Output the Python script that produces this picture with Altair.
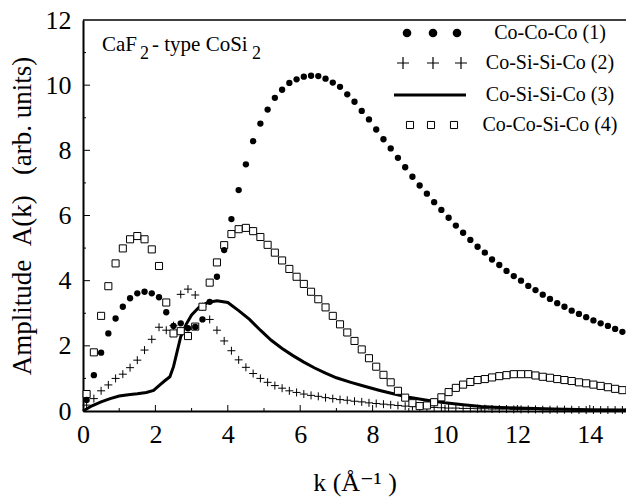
import altair as alt
import pandas as pd

FONT = "'Liberation Serif', 'Times New Roman', 'DejaVu Serif', serif"

# sampling grid of the point series (Å^-1)
k_pts = [0.1, 0.3, 0.5, 0.7, 0.9, 1.1, 1.3, 1.5, 1.7, 1.9,
         2.1, 2.3, 2.5, 2.7, 2.9, 3.1, 3.3, 3.5, 3.7, 3.9,
         4.1, 4.3, 4.5, 4.7, 4.9, 5.1, 5.3, 5.5, 5.7, 5.9,
         6.1, 6.3, 6.5, 6.7, 6.9, 7.1, 7.3, 7.5, 7.7, 7.9,
         8.1, 8.3, 8.5, 8.7, 8.9, 9.1, 9.3, 9.5, 9.7, 9.9,
         10.1, 10.3, 10.5, 10.7, 10.9, 11.1, 11.3, 11.5, 11.7, 11.9,
         12.1, 12.3, 12.5, 12.7, 12.9, 13.1, 13.3, 13.5, 13.7, 13.9,
         14.1, 14.3, 14.5, 14.7, 14.9]

# Co-Co-Co (1)
s1 = [0.34, 1.10, 1.79, 2.38, 2.84, 3.20, 3.46, 3.61, 3.66, 3.61,
      3.49, 3.03, 2.61, 2.69, 2.54, 2.58, 2.81, 3.35, 4.12, 4.94,
      5.89, 6.78, 7.57, 8.28, 8.82, 9.25, 9.61, 9.86, 10.07, 10.18,
      10.26, 10.29, 10.28, 10.20, 10.08, 9.95, 9.72, 9.49, 9.21, 8.95,
      8.64, 8.34, 8.06, 7.77, 7.48, 7.19, 6.92, 6.67, 6.41, 6.17,
      5.93, 5.69, 5.47, 5.25, 5.04, 4.86, 4.65, 4.48, 4.30, 4.14,
      4.00, 3.84, 3.71, 3.57, 3.44, 3.31, 3.20, 3.08, 2.98, 2.88,
      2.78, 2.69, 2.61, 2.52, 2.43]

# Co-Si-Si-Co (2)
s2 = [0.18, 0.38, 0.62, 0.80, 1.00, 1.13, 1.33, 1.56, 1.87, 2.20,
      2.57, 2.48, 2.62, 3.58, 3.74, 3.56, 3.20, 2.81, 2.48, 2.15,
      1.85, 1.57, 1.34, 1.15, 1.00, 0.88, 0.78, 0.70, 0.62, 0.57,
      0.52, 0.48, 0.45, 0.41, 0.38, 0.35, 0.33, 0.30, 0.28, 0.25,
      0.23, 0.21, 0.19, 0.17, 0.15, 0.14, 0.13, 0.12, 0.11, 0.10,
      0.09, 0.09, 0.08, 0.08, 0.07, 0.07, 0.06, 0.06, 0.06, 0.05,
      0.05, 0.05, 0.05, 0.04, 0.04, 0.04, 0.04, 0.04, 0.03, 0.03,
      0.03, 0.03, 0.03, 0.03, 0.03]

# Co-Co-Si-Co (4)
s4 = [0.52, 1.80, 2.92, 3.83, 4.53, 4.99, 5.27, 5.37, 5.27, 4.96,
      4.45, 3.33, 2.38, 2.45, 2.30, 2.59, 3.20, 3.94, 4.56, 5.09,
      5.43, 5.58, 5.62, 5.52, 5.34, 5.10, 4.86, 4.62, 4.36, 4.12,
      3.90, 3.66, 3.43, 3.18, 2.92, 2.66, 2.41, 2.15, 1.89, 1.62,
      1.36, 1.11, 0.88, 0.62, 0.41, 0.24, 0.15, 0.17, 0.27, 0.42,
      0.58, 0.71, 0.81, 0.89, 0.95, 0.98, 1.03, 1.07, 1.10, 1.13,
      1.13, 1.13, 1.09, 1.05, 1.02, 0.98, 0.95, 0.92, 0.88, 0.85,
      0.81, 0.77, 0.73, 0.68, 0.64]

# Co-Si-Si-Co (3) : continuous curve
k_line = [0, 0.25, 0.5, 0.75, 1.0, 1.25, 1.5, 1.75, 1.95, 2.1, 2.25, 2.4, 2.5,
          2.6, 2.7, 2.85, 3.0, 3.2, 3.45, 3.7, 4.0, 4.3, 4.6, 4.9, 5.2, 5.5,
          5.8, 6.1, 6.4, 6.7, 7.0, 7.4, 7.8, 8.2, 8.6, 9.0, 9.5, 10.0, 10.5,
          11.0, 11.5, 12.0, 13.0, 14.0, 15.0]
s3 = [0, 0.16, 0.28, 0.38, 0.46, 0.50, 0.53, 0.57, 0.63, 0.78, 0.92, 1.05, 1.36,
      1.82, 2.28, 2.66, 2.95, 3.18, 3.33, 3.38, 3.33, 3.08, 2.81, 2.48, 2.17, 1.92,
      1.70, 1.50, 1.32, 1.16, 1.02, 0.88, 0.75, 0.63, 0.52, 0.42, 0.33, 0.25, 0.19,
      0.14, 0.11, 0.09, 0.06, 0.04, 0.03]

names = ["Co-Co-Co (1)", "Co-Si-Si-Co (2)", "Co-Si-Si-Co (3)", "Co-Co-Si-Co (4)"]

x_major = [2, 4, 6, 8, 10, 12, 14]
x_minor = [1, 3, 5, 7, 9, 11, 13, 15]
y_major = [2, 4, 6, 8, 10]
y_minor = [1, 3, 5, 7, 9, 11]

W, H = 543, 391
PLUS = "M-1,0L1,0M0,-1L0,1"
NB = "\u00a0"

xs = alt.Scale(domain=[0, 15], nice=False, zero=False)
ys = alt.Scale(domain=[0, 12], nice=False)

xaxis = alt.Axis(values=[0, 2, 4, 6, 8, 10, 12, 14], ticks=False, grid=False,
                 domainColor="black", domainWidth=2, labelFont=FONT, labelFontSize=26,
                 labelColor="black", labelPadding=10, title="k (Å⁻¹ )", titleFont=FONT,
                 titleFontSize=26, titleFontWeight="normal", titleColor="black",
                 titlePadding=22, labelFlush=False)
yaxis = alt.Axis(values=[0, 2, 4, 6, 8, 10, 12], ticks=False, grid=False,
                 domainColor="black", domainWidth=2, labelFont=FONT, labelFontSize=26,
                 labelColor="black", labelPadding=12,
                 title="Amplitude" + NB + NB + "A(k)" + NB + NB + NB + "(arb." + NB + "units)",
                 titleFont=FONT, titleFontSize=27, titleFontWeight="normal",
                 titleColor="black", titlePadding=9, labelFlush=False)

pts = pd.DataFrame({"k": k_pts, "s1": s1, "s2": s2, "s4": s4})
ln = pd.DataFrame({"k": k_line, "s3": s3})

line = alt.Chart(ln).mark_line(color="black", strokeWidth=3).encode(
    x=alt.X("k:Q", scale=xs, axis=xaxis), y=alt.Y("s3:Q", scale=ys, axis=yaxis))

plus = alt.Chart(pts).mark_point(shape=PLUS, filled=False, color="black",
                                 strokeWidth=1, size=64, opacity=1).encode(
    x=alt.X("k:Q", scale=xs), y=alt.Y("s2:Q", scale=ys))

squares = alt.Chart(pts).mark_point(shape="square", filled=True, fill="white",
                                    stroke="black", strokeWidth=1, size=50,
                                    opacity=1, fillOpacity=1).encode(
    x=alt.X("k:Q", scale=xs), y=alt.Y("s4:Q", scale=ys))

circles = alt.Chart(pts).mark_circle(color="black", size=40, opacity=1).encode(
    x=alt.X("k:Q", scale=xs), y=alt.Y("s1:Q", scale=ys))

top = alt.Chart(pd.DataFrame({"v": [12]})).mark_rule(color="black", strokeWidth=1.5).encode(
    y=alt.Y("v:Q", scale=ys))

xt = pd.DataFrame({"v": x_major + x_minor,
                   "len": [6] * len(x_major) + [3] * len(x_minor)})
xt["y1"] = H
xt["y2"] = H - xt["len"]
xticks = alt.Chart(xt).mark_rule(color="black", strokeWidth=1).encode(
    x=alt.X("v:Q", scale=xs), y=alt.Y("y1:Q", scale=None, axis=None),
    y2="y2:Q")

yt = pd.DataFrame({"v": y_major + y_minor,
                   "len": [7] * len(y_major) + [3] * len(y_minor)})
yt["x1"] = 0
yt["x2"] = yt["len"]
yticks = alt.Chart(yt).mark_rule(color="black", strokeWidth=1).encode(
    y=alt.Y("v:Q", scale=ys), x=alt.X("x1:Q", scale=None, axis=None), x2="x2:Q")

# legend (manual, top right)
leg_rows = pd.DataFrame({"name": names, "py": [13, 43, 75, 105]})
leg_text = alt.Chart(leg_rows).mark_text(font=FONT, fontSize=20, align="center",
                                         baseline="middle", color="black").encode(
    x=alt.value(467), y=alt.Y("py:Q", scale=None, axis=None), text="name:N")

sym = pd.DataFrame({"px": [324, 350, 374], "py": [13, 13, 13]})
leg_c = alt.Chart(sym).mark_circle(color="black", size=75, opacity=1).encode(
    x=alt.X("px:Q", scale=None, axis=None), y=alt.Y("py:Q", scale=None, axis=None))
sym2 = pd.DataFrame({"px": [320, 350, 378], "py": [43, 43, 43]})
leg_p = alt.Chart(sym2).mark_point(shape=PLUS, filled=False, color="black",
                                   strokeWidth=1.2, size=144, opacity=1).encode(
    x=alt.X("px:Q", scale=None, axis=None), y=alt.Y("py:Q", scale=None, axis=None))
sym4 = pd.DataFrame({"px": [327, 348, 371], "py": [105, 105, 105]})
leg_s = alt.Chart(sym4).mark_point(shape="square", filled=False, color="black",
                                   strokeWidth=1, size=50, opacity=1).encode(
    x=alt.X("px:Q", scale=None, axis=None), y=alt.Y("py:Q", scale=None, axis=None))
leg_l = alt.Chart(pd.DataFrame({"a": [0]})).mark_rule(color="black", strokeWidth=3).encode(
    x=alt.value(311), x2=alt.value(383), y=alt.value(75))

# annotation CaF2- type CoSi2
ann = pd.DataFrame({"t": ["CaF", "2", "- type CoSi", "2"],
                    "px": [19, 57, 69, 169],
                    "py": [31, 39, 31, 39],
                    "fs": [21, 18, 21, 18]})
annot = alt.Chart(ann).mark_text(font=FONT, align="left", baseline="alphabetic",
                                 color="black").encode(
    x=alt.X("px:Q", scale=None, axis=None), y=alt.Y("py:Q", scale=None, axis=None),
    text="t:N", size=alt.Size("fs:Q", scale=None, legend=None))

chart = alt.layer(line, plus, squares, circles, top, xticks, yticks,
                  leg_l, leg_c, leg_p, leg_s, leg_text, annot).properties(
    width=W, height=H, autosize="none",
    padding={"left": 83, "top": 20, "right": 0, "bottom": 87},
    background="white",
).configure_view(stroke=None)

chart.save("out.html", embed_options={"renderer": "svg", "actions": False})
